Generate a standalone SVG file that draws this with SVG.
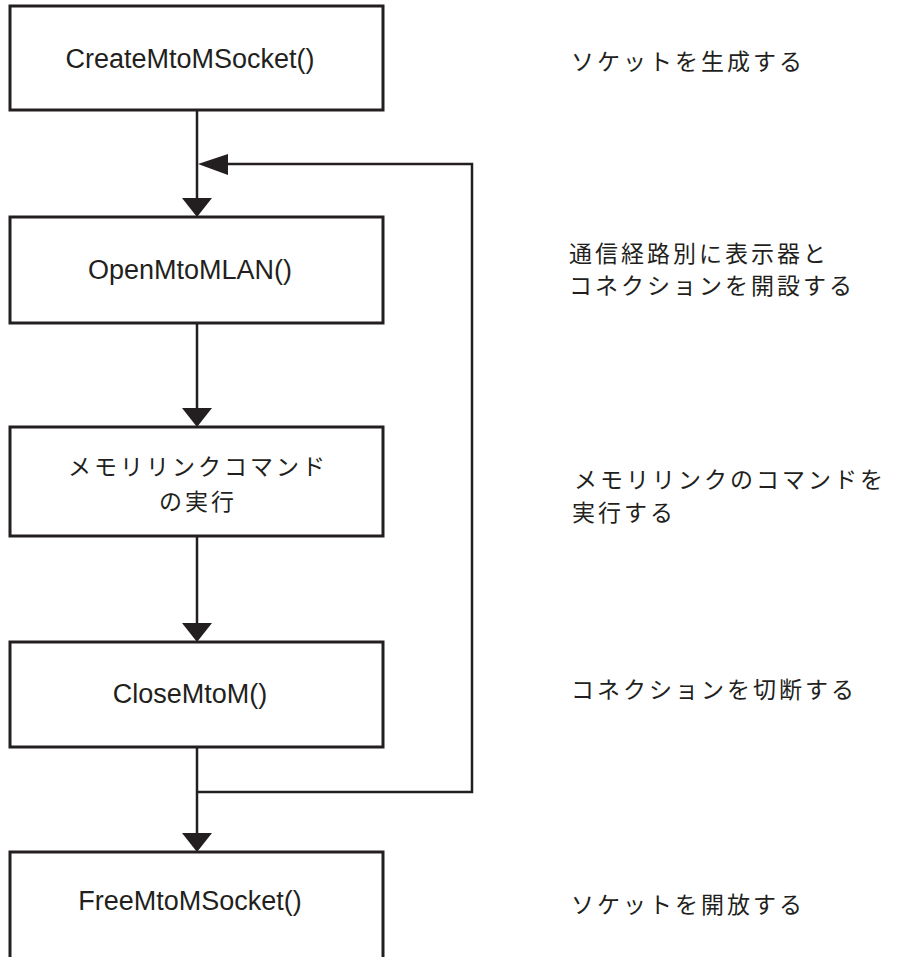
<svg xmlns="http://www.w3.org/2000/svg" width="898" height="957" viewBox="0 0 898 957">
<style>
.box{fill:#fff;stroke:#231f20;stroke-width:3}
.ln{fill:none;stroke:#231f20;stroke-width:2.5}
.ah{fill:#231f20;stroke:none}
.lt{font-family:"Liberation Sans",Arial,sans-serif;font-size:27px;fill:#231f20;text-anchor:middle}
.jt{font-family:"Noto Sans CJK JP","Noto Sans",sans-serif;font-size:23px;fill:#231f20;letter-spacing:3px}
.jc{font-family:"Noto Sans CJK JP","Noto Sans",sans-serif;font-size:23px;fill:#231f20;letter-spacing:3px;text-anchor:middle}
</style>
<rect width="898" height="957" fill="#fff"/>
<g id="connectors">
<line class="ln" x1="197" y1="110" x2="197" y2="200"/>
<polygon class="ah" points="182,198 212,198 197,217"/>
<line class="ln" x1="197" y1="323" x2="197" y2="410"/>
<polygon class="ah" points="182,408 212,408 197,427"/>
<line class="ln" x1="197" y1="536" x2="197" y2="625"/>
<polygon class="ah" points="182,623 212,623 197,642"/>
<line class="ln" x1="197" y1="747" x2="197" y2="835"/>
<polygon class="ah" points="182,833 212,833 197,852"/>
<polyline class="ln" points="197,792 472,792 472,164 226,164"/>
<polygon class="ah" points="228,154 228,175 198,164"/>
</g>
<g id="n1">
<rect class="box" x="10" y="6" width="373" height="104"/>
<text class="lt" x="190" y="68">CreateMtoMSocket()</text>
</g>
<g id="n2">
<rect class="box" x="10" y="217" width="373" height="106"/>
<text class="lt" x="190" y="279">OpenMtoMLAN()</text>
</g>
<g id="n3">
<rect class="box" x="10" y="427" width="373" height="109"/>
<text class="jc" x="198" y="475">メモリリンクコマンド</text>
<text class="jc" x="198" y="510">の実行</text>
</g>
<g id="n4">
<rect class="box" x="10" y="642" width="373" height="105"/>
<text class="lt" x="190" y="703">CloseMtoM()</text>
</g>
<g id="n5">
<path class="box" d="M10,960 V852 H383 V960"/>
<text class="lt" x="190" y="910">FreeMtoMSocket()</text>
</g>
<g id="notes">
<text class="jt" x="571" y="70">ソケットを生成する</text>
<text class="jt" x="569" y="262">通信経路別に表示器と</text>
<text class="jt" x="569" y="294">コネクションを開設する</text>
<text class="jt" x="574" y="488">メモリリンクのコマンドを</text>
<text class="jt" x="572" y="521">実行する</text>
<text class="jt" x="571" y="698">コネクションを切断する</text>
<text class="jt" x="571" y="913">ソケットを開放する</text>
</g>
</svg>
